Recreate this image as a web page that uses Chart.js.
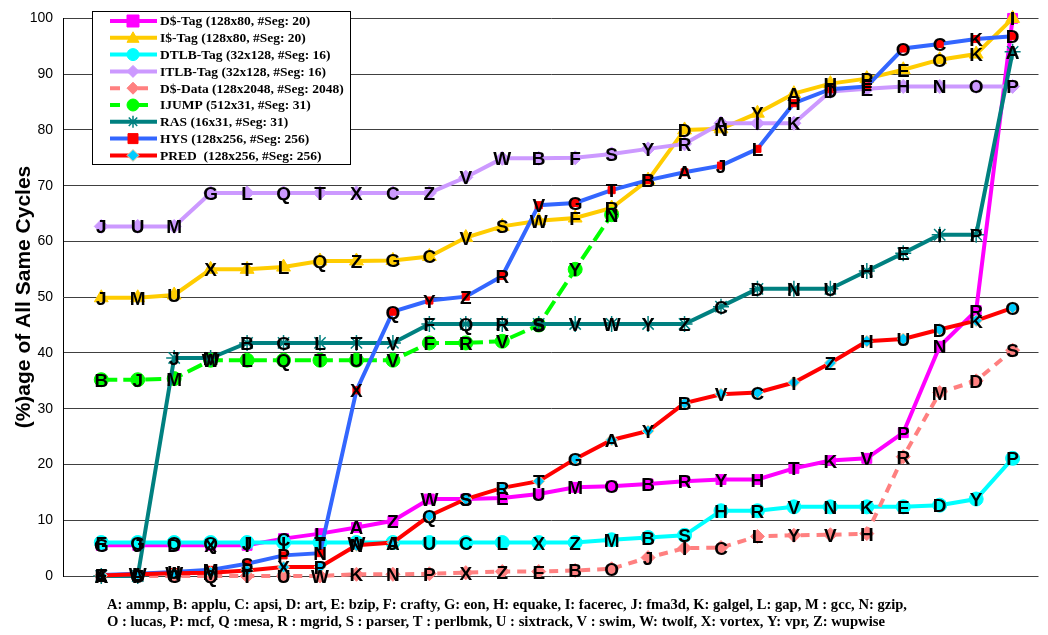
<!DOCTYPE html>
<html>
<head>
<meta charset="utf-8">
<title>Same cycles</title>
<script src="https://cdn.jsdelivr.net/npm/chart.js@4/dist/chart.umd.min.js"></script>
<style>
  body { margin: 0; background: #fff; }
  canvas { display: block; }
</style>
</head>
<body>
<canvas id="chart" width="1048" height="635"></canvas>
<script>
// values per series, sorted ascending; letters = benchmark at each position
const positions = [1,2,3,4,5,6,7,8,9,10,11,12,13,14,15,16,17,18,19,20,21,22,23,24,25,26];

const dTag = [5.5,5.5,5.5,5.5,5.5,6.7,7.6,8.7,9.9,13.8,13.8,14.0,14.7,15.9,16.1,16.5,17.0,17.3,17.3,19.3,20.7,21.1,25.7,41.2,47.6,100];
const dTagLbl = 'GJDXICLAZWSEUMOBRYHTKVPNRI';
const iTag = [49.9,49.9,50.4,55.0,55.0,55.4,56.5,56.5,56.6,57.3,60.7,62.7,63.7,64.2,66.0,71.0,80.0,80.2,83.0,86.5,88.3,89.2,90.8,92.6,93.6,100];
const iTagLbl = 'JMUXTLQZGCVSWFRBDNYAHPEOKI';
const dtlb = [6.0,6.0,6.0,6.0,6.0,6.0,6.0,6.0,6.0,6.0,6.0,6.0,6.0,6.0,6.5,6.9,7.3,11.7,11.7,12.4,12.4,12.4,12.4,12.7,13.8,21.1];
const dtlbLbl = 'FGOQJITWAUCLXZMBSHRVNKEDYP';
const itlb = [62.7,62.7,62.7,68.7,68.7,68.7,68.7,68.7,68.7,68.7,71.5,74.9,74.9,75.0,75.7,76.6,77.5,81.2,81.2,81.2,86.9,87.4,87.8,87.8,87.8,87.8];
const itlbLbl = 'JUMGLQTXCZVWBFSYRAIKDEHNOP';
const dData = [0,0,0,0,0,0,0,0.3,0.3,0.4,0.6,0.8,0.8,1.0,1.3,3.3,5.0,5.1,7.1,7.3,7.4,7.6,21.4,32.9,35.0,40.5];
const dDataLbl = 'AFGQTUWKNPXZEBOJICLYVHRMDS';
const ijump = [35.2,35.2,35.4,38.7,38.7,38.7,38.7,38.7,38.7,41.8,41.8,42.1,45.0,55.0,64.8,null,null,null,null,null,null,null,null,null,null,null];
const ijumpLbl = 'BJMWLQTUVFRVSYN';
const ras = [0,0,39.1,39.1,41.8,41.8,41.8,41.8,41.8,45.2,45.2,45.2,45.2,45.2,45.2,45.2,45.2,48.3,51.5,51.5,51.5,54.7,57.9,61.2,61.2,94.0];
const rasLbl = 'KOJMBGLTVFQRSVWYZCDNUHEIPA';
const hys = [0.2,0.4,0.7,1.1,2.2,3.7,4.1,33.3,47.4,49.4,50.1,53.8,66.5,66.9,69.2,71.0,72.4,73.6,76.6,84.8,87.3,87.8,94.6,95.4,96.3,96.8];
const hysLbl = 'EWUMSPNXQYZRVGTBAJLHIFOCKD';
const pred = [0.1,0.3,0.5,0.6,1.0,1.6,1.6,5.5,6.0,10.8,13.8,15.8,17.0,21.0,24.4,26.0,31.0,32.6,32.9,34.7,38.2,42.1,42.5,44.2,45.8,48.1];
const predLbl = 'ELWMFXPNJQSRTGAYBVCIZHUDKO';

const yTicks = [0,10,20,30,40,50,60,70,80,90,100];
const yTitle = '(%)age of All Same Cycles';
const footLines = [
  'A: ammp, B: applu, C: apsi, D: art, E: bzip, F: crafty, G: eon, H: equake, I: facerec, J: fma3d, K: galgel, L: gap, M : gcc, N: gzip,',
  'O : lucas, P: mcf, Q :mesa, R : mgrid, S : parser, T : perlbmk, U : sixtrack, V : swim, W: twolf, X: vortex, Y: vpr, Z: wupwise'
];

const series = [
  { name: 'D$-Tag (128x80, #Seg: 20)', values: dTag, letters: dTagLbl, line: '#FF00FF', fill: '#FF00FF', edge: '#FF00FF', shape: 'rect', r: 7 },
  { name: 'I$-Tag (128x80, #Seg: 20)', values: iTag, letters: iTagLbl, line: '#FFCC00', fill: '#FFCC00', edge: '#FFCC00', shape: 'triangle', r: 8 },
  { name: 'DTLB-Tag (32x128, #Seg: 16)', values: dtlb, letters: dtlbLbl, line: '#00FFFF', fill: '#00FFFF', edge: '#00FFFF', shape: 'circle', r: 7 },
  { name: 'ITLB-Tag (32x128, #Seg: 16)', values: itlb, letters: itlbLbl, line: '#CC99FF', fill: '#CC99FF', edge: '#CC99FF', shape: 'rectRot', r: 7 },
  { name: 'D$-Data (128x2048, #Seg: 2048)', values: dData, letters: dDataLbl, line: '#FF8080', fill: '#FF8080', edge: '#FF8080', shape: 'rectRot', r: 7, dash: [9, 7] },
  { name: 'IJUMP (512x31, #Seg: 31)', values: ijump, letters: ijumpLbl, line: '#00FF00', fill: '#00FF00', edge: '#00FF00', shape: 'circle', r: 7, dash: [16, 6] },
  { name: 'RAS (16x31, #Seg: 31)', values: ras, letters: rasLbl, line: '#008080', fill: '#008080', edge: '#008080', shape: 'star', r: 8 },
  { name: 'HYS (128x256, #Seg: 256)', values: hys, letters: hysLbl, line: '#3366FF', fill: '#FF0000', edge: '#FF0000', shape: 'rect', r: 5 },
  { name: 'PRED  (128x256, #Seg: 256)', values: pred, letters: predLbl, line: '#FF0000', fill: '#00CCFF', edge: '#FFCC99', shape: 'rectRot', r: 6 }
];

const datasets = series.map((s, i) => ({
  label: s.name,
  data: positions.map((x, j) => ({ x: x, y: s.values[j] })),
  borderColor: s.line,
  borderWidth: 4,
  borderDash: s.dash || [],
  pointStyle: s.shape,
  pointRadius: s.r,
  pointBackgroundColor: s.fill,
  pointBorderColor: s.edge,
  pointBorderWidth: s.shape === 'star' ? 1.5 : 1,
  tension: 0,
  clip: false,
  spanGaps: false,
  order: series.length - i
}));

function drawMarker(ctx, s, x, y, r) {
  ctx.save();
  ctx.fillStyle = s.fill;
  ctx.strokeStyle = s.edge;
  ctx.lineWidth = 1;
  ctx.setLineDash([]);
  ctx.beginPath();
  if (s.shape === 'rect') {
    ctx.rect(x - r, y - r, 2 * r, 2 * r);
  } else if (s.shape === 'triangle') {
    ctx.moveTo(x, y - r);
    ctx.lineTo(x + r, y + r * 0.75);
    ctx.lineTo(x - r, y + r * 0.75);
    ctx.closePath();
  } else if (s.shape === 'circle') {
    ctx.arc(x, y, r, 0, Math.PI * 2);
  } else if (s.shape === 'rectRot') {
    ctx.moveTo(x, y - r);
    ctx.lineTo(x + r, y);
    ctx.lineTo(x, y + r);
    ctx.lineTo(x - r, y);
    ctx.closePath();
  }
  if (s.shape === 'star') {
    ctx.lineWidth = 1.5;
    for (let k = 0; k < 4; k++) {
      const a = k * Math.PI / 4;
      ctx.moveTo(x - Math.cos(a) * r, y - Math.sin(a) * r);
      ctx.lineTo(x + Math.cos(a) * r, y + Math.sin(a) * r);
    }
    ctx.stroke();
  } else {
    ctx.fill();
    ctx.stroke();
  }
  ctx.restore();
}

const letterPlugin = {
  id: 'letters',
  afterDatasetsDraw(chart) {
    const ctx = chart.ctx;
    ctx.save();
    ctx.font = 'bold 19px "Liberation Sans", Arial, sans-serif';
    ctx.fillStyle = '#000';
    ctx.textAlign = 'center';
    ctx.textBaseline = 'alphabetic';
    series.forEach((s, i) => {
      const meta = chart.getDatasetMeta(i);
      meta.data.forEach((pt, j) => {
        if (s.values[j] == null) return;
        ctx.fillText(s.letters[j], pt.x, pt.y + 7);
      });
    });
    ctx.restore();
  }
};

const legendPlugin = {
  id: 'boxLegend',
  afterDraw(chart) {
    const ctx = chart.ctx;
    const left = 92, top = 11, w = 258, h = 153;
    ctx.save();
    ctx.fillStyle = '#fff';
    ctx.fillRect(left, top, w, h);
    ctx.strokeStyle = '#000';
    ctx.lineWidth = 1;
    ctx.strokeRect(left + 0.5, top + 0.5, w, h);
    series.forEach((s, i) => {
      const y = 21 + i * 16.8;
      ctx.save();
      ctx.strokeStyle = s.line;
      ctx.lineWidth = 4;
      ctx.setLineDash(s.dash ? [10, 18] : []);
      ctx.beginPath();
      ctx.moveTo(110, y);
      ctx.lineTo(157, y);
      ctx.stroke();
      ctx.restore();
      drawMarker(ctx, s, 133, y, Math.min(s.r, 6));
      ctx.fillStyle = '#000';
      ctx.font = 'bold 13.5px "Liberation Serif", "Times New Roman", serif';
      ctx.textAlign = 'left';
      ctx.textBaseline = 'middle';
      ctx.fillText(s.name, 160, y + 1);
    });
    ctx.restore();
  }
};

const textPlugin = {
  id: 'extraText',
  afterDraw(chart) {
    const ctx = chart.ctx;
    ctx.save();
    ctx.fillStyle = '#000';
    ctx.font = 'bold 21px "Liberation Sans", Arial, sans-serif';
    ctx.translate(24, 297);
    ctx.rotate(-Math.PI / 2);
    ctx.textAlign = 'center';
    ctx.textBaseline = 'middle';
    ctx.fillText(yTitle, 0, 0);
    ctx.restore();

    ctx.save();
    ctx.fillStyle = '#000';
    ctx.font = 'bold 15px "Liberation Serif", "Times New Roman", serif';
    ctx.textAlign = 'left';
    ctx.textBaseline = 'alphabetic';
    ctx.fillText(footLines[0], 107, 609, 800);
    ctx.fillText(footLines[1], 107, 626, 778);
    ctx.restore();
  }
};

new Chart(document.getElementById('chart'), {
  type: 'line',
  data: { datasets: datasets },
  plugins: [letterPlugin, legendPlugin, textPlugin],
  options: {
    responsive: false,
    animation: false,
    devicePixelRatio: 1,
    layout: { padding: { left: 0, right: 0, top: 11, bottom: 59 } },
    plugins: {
      legend: { display: false },
      tooltip: { enabled: false }
    },
    scales: {
      x: {
        type: 'linear',
        min: -0.05,
        max: 26.71,
        display: false
      },
      y: {
        min: 0,
        max: 100,
        afterBuildTicks(scale) {
          scale.ticks = yTicks.map(v => ({ value: v }));
        },
        afterFit(scale) {
          scale.width = 63;
        },
        ticks: {
          color: '#000',
          padding: 10,
          font: { family: '"Liberation Sans", Arial, sans-serif', size: 14 }
        },
        grid: { color: '#404040', lineWidth: 1, drawTicks: false },
        border: { color: '#000', width: 1 }
      }
    }
  }
});
</script>
</body>
</html>
